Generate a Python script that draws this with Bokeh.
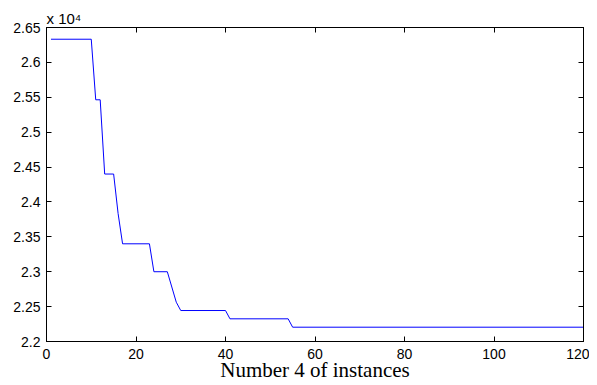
from bokeh.plotting import figure
from bokeh.models import Range1d, LinearAxis, FixedTicker, Title
from bokeh.embed import file_html
from bokeh.resources import INLINE

# data
iterations = [1, 10, 11, 12, 13, 15, 16, 17, 23, 24, 27, 29, 30, 40, 41, 54, 55, 120]
best_cost = [26332, 26332, 25464, 25464, 24400, 24400, 23834, 23400, 23400, 23000,
             23000, 22563, 22444, 22444, 22325, 22325, 22205, 22205]
x_ticks = [0, 20, 40, 60, 80, 100, 120]
y_ticks = [22000, 22500, 23000, 23500, 24000, 24500, 25000, 25500, 26000, 26500]
y_tick_labels = ["2.2", "2.25", "2.3", "2.35", "2.4", "2.45", "2.5", "2.55", "2.6", "2.65"]
x_label = "Number 4 of instances"
scale_text = "x 10\u2074"

p = figure(frame_width=537, frame_height=314, output_backend="svg", toolbar_location=None,
           x_range=Range1d(0, 120), y_range=Range1d(22000, 26500),
           min_border_left=46, min_border_top=27, min_border_right=6, min_border_bottom=40)
p.background_fill_color = "white"
p.border_fill_color = "white"
p.outline_line_color = "black"
p.outline_line_width = 1
p.xgrid.visible = False
p.ygrid.visible = False

p.line(iterations, best_cost, line_color="#0000ff", line_width=1)

font = "Liberation Sans"

def style(ax, labels=True):
    ax.axis_line_color = "black"
    ax.major_tick_line_color = "black"
    ax.minor_tick_line_color = None
    ax.major_tick_in = 5
    ax.major_tick_out = 0
    ax.major_label_text_font = font
    ax.major_label_text_font_size = "14px"
    ax.major_label_text_color = "black" if labels else None

xa = p.xaxis[0]
xa.ticker = FixedTicker(ticks=x_ticks)
style(xa)
xa.major_label_standoff = 7
xa.axis_label = x_label
xa.axis_label_text_font = "Liberation Serif"
xa.axis_label_text_font_size = "21px"
xa.axis_label_text_font_style = "normal"
xa.axis_label_text_color = "black"
xa.axis_label_standoff = -4

ya = p.yaxis[0]
ya.ticker = FixedTicker(ticks=y_ticks)
ya.major_label_overrides = {t: l for t, l in zip(y_ticks, y_tick_labels)}
style(ya)
ya.major_label_standoff = 6

top = LinearAxis(ticker=FixedTicker(ticks=x_ticks))
style(top, labels=False)
top.major_label_text_font_size = "0px"
top.major_label_standoff = 0
p.add_layout(top, "above")

right = LinearAxis(ticker=FixedTicker(ticks=y_ticks))
style(right, labels=False)
right.major_label_text_font_size = "0px"
right.major_label_standoff = 0
p.add_layout(right, "right")

p.add_layout(Title(text=scale_text, align="left", text_font=font, text_font_size="15px",
                   text_font_style="normal", text_color="black", standoff=1), "above")

open("out.html", "w").write(file_html(p, INLINE))
